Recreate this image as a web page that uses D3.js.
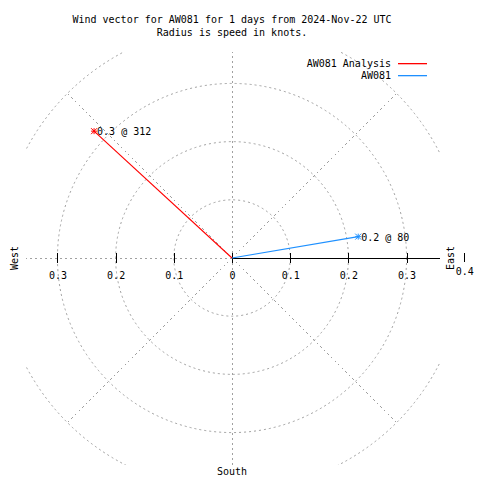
<!DOCTYPE html>
<html>
<head>
<meta charset="utf-8">
<script src="https://cdn.jsdelivr.net/npm/d3@7"></script>
<style>
  html, body { margin: 0; padding: 0; background: #fff; }
  svg { display: block; }
  text { font-family: "DejaVu Sans Mono", monospace; font-size: 10px; fill: #000; }
</style>
</head>
<body>
<svg id="chart" width="480" height="480"></svg>
<script>
// ---- data ----
const titleLines = ["Wind vector for AW081 for 1 days from 2024-Nov-22 UTC", "Radius is speed in knots."];
const seriesNames = ["AW081 Analysis", "AW081"];
const seriesColors = ["#ff0000", "#1e90ff"];
const directions = [312.6, 80.4];      // degrees, clockwise from north
const speeds = [0.322, 0.220];         // knots
const pointLabels = ["0.3 @ 312", "0.2 @ 80"];
const gridRadii = [0.1, 0.2, 0.3, 0.4];
const gridAngles = [0, 45, 90, 135, 180, 225, 270, 315];
const tickValues = [-0.3, -0.2, -0.1, 0, 0.1, 0.2, 0.3];
const outerTick = 0.4;

// ---- layout ----
const svg = d3.select("#chart");
const lim = 0.354;
const x = d3.scaleLinear().domain([-lim, lim]).range([26, 438]);
const y = d3.scaleLinear().domain([-lim, lim]).range([464, 52]);
const cx = x(0), cy = y(0);
const rpx = v => x(v) - x(0);
const grey = "#a0a0a0";

svg.append("defs").append("clipPath").attr("id", "plotclip")
  .append("rect").attr("x", 26).attr("y", 52).attr("width", 414).attr("height", 413);

const grid = svg.append("g").attr("clip-path", "url(#plotclip)");

// circles
grid.selectAll("circle.g").data(gridRadii).join("circle")
  .attr("cx", cx).attr("cy", cy).attr("r", d => rpx(d))
  .attr("fill", "none").attr("stroke", grey).attr("stroke-width", 1)
  .attr("stroke-dasharray", "2,3");

// radial lines
const rMax = d3.max(gridRadii);
grid.selectAll("line.r").data(gridAngles).join("line")
  .attr("x1", cx).attr("y1", cy)
  .attr("x2", d => x(rMax * Math.sin(d * Math.PI / 180)))
  .attr("y2", d => y(rMax * Math.cos(d * Math.PI / 180)))
  .attr("stroke", grey).attr("stroke-width", 1)
  .attr("stroke-dasharray", "2,3")
  .attr("shape-rendering", "crispEdges");

// right-hand solid axis line
grid.append("line")
  .attr("x1", cx).attr("y1", cy + 0.5).attr("x2", 440).attr("y2", cy + 0.5)
  .attr("stroke", "#000").attr("stroke-width", 1).attr("shape-rendering", "crispEdges");

// ticks / tick labels via d3 axis
const axis = d3.axisBottom(x).tickValues(tickValues)
  .tickFormat(d => d3.format("~g")(Math.abs(d)))
  .tickSizeInner(5).tickSizeOuter(0).tickPadding(9);
const ax = svg.append("g").attr("transform", `translate(0,${cy})`).call(axis);
ax.select(".domain").remove();
ax.selectAll(".tick line").attr("y1", -5).attr("y2", 5).attr("stroke", "#000")
  .attr("shape-rendering", "crispEdges");
ax.selectAll(".tick text").attr("font-family", "DejaVu Sans Mono").attr("font-size", 10).attr("fill", "#000");

// outer 0.4 tick
svg.append("line").attr("x1", x(outerTick)).attr("x2", x(outerTick))
  .attr("y1", cy - 5).attr("y2", cy + 4).attr("stroke", "#000").attr("shape-rendering", "crispEdges");
svg.append("text").attr("x", x(outerTick)).attr("y", cy + 17).attr("text-anchor", "middle")
  .text(d3.format("~g")(outerTick));

// compass labels
svg.append("text").attr("transform", `translate(18,${cy}) rotate(-90)`)
  .attr("text-anchor", "middle").text("West");
svg.append("text").attr("transform", `translate(454,${cy}) rotate(-90)`)
  .attr("text-anchor", "middle").text("East");
svg.append("text").attr("x", cx).attr("y", 475).attr("text-anchor", "middle").text("South");

// title
svg.selectAll("text.title").data(titleLines).join("text")
  .attr("class", "title").attr("x", 232).attr("y", (d, i) => 23 + i * 13)
  .attr("text-anchor", "middle").text(d => d);

// data vectors
const pts = directions.map((dir, i) => ({
  px: x(speeds[i] * Math.sin(dir * Math.PI / 180)),
  py: y(speeds[i] * Math.cos(dir * Math.PI / 180)),
  color: seriesColors[i], label: pointLabels[i]
}));
const dg = svg.append("g");
pts.forEach(p => {
  dg.append("line").attr("x1", cx).attr("y1", cy).attr("x2", p.px).attr("y2", p.py)
    .attr("stroke", p.color).attr("stroke-width", 1.1);
  const s = 3;
  const star = dg.append("g").attr("stroke", p.color).attr("stroke-width", 1);
  star.append("line").attr("x1", p.px - s).attr("x2", p.px + s).attr("y1", p.py).attr("y2", p.py);
  star.append("line").attr("x1", p.px).attr("x2", p.px).attr("y1", p.py - s).attr("y2", p.py + s);
  star.append("line").attr("x1", p.px - s).attr("x2", p.px + s).attr("y1", p.py - s).attr("y2", p.py + s);
  star.append("line").attr("x1", p.px - s).attr("x2", p.px + s).attr("y1", p.py + s).attr("y2", p.py - s);
  dg.append("text").attr("x", p.px + 3).attr("y", p.py + 4).text(p.label);
});

// legend
const lg = svg.append("g");
seriesNames.forEach((name, i) => {
  const ly = 63 + i * 12;
  lg.append("text").attr("x", 391).attr("y", ly + 4).attr("text-anchor", "end").text(name);
  lg.append("rect").attr("x", 398).attr("y", ly).attr("width", 29).attr("height", 1.3)
    .attr("fill", seriesColors[i]);
});
</script>
</body>
</html>
